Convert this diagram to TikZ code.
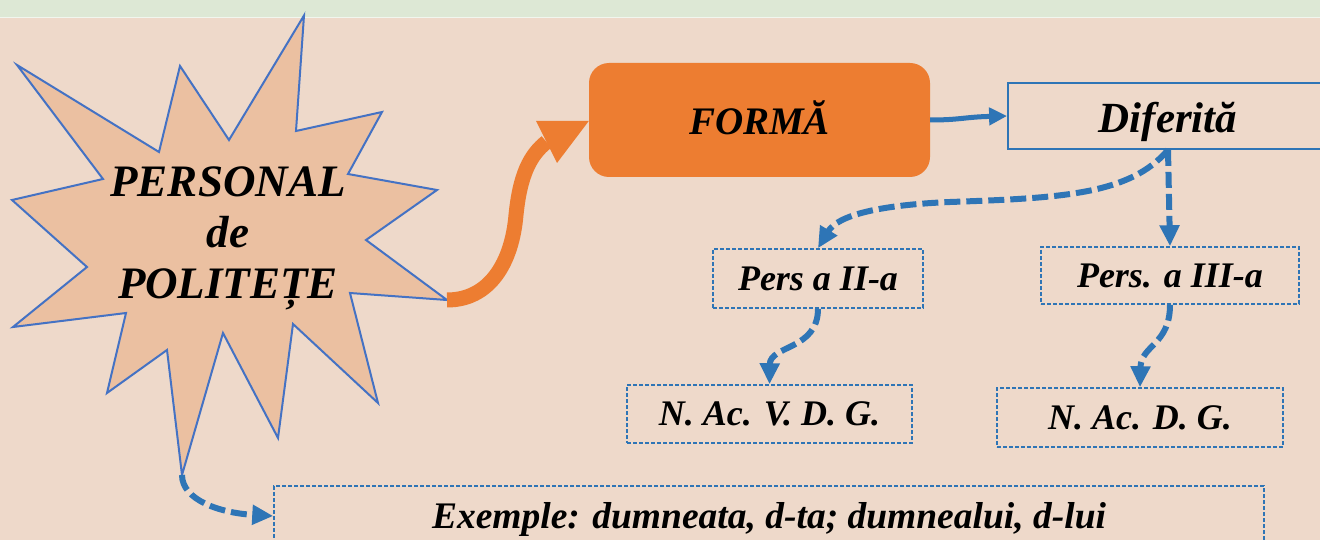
\documentclass[tikz,border=0pt]{standalone}
\usepackage{fontspec}
\setmainfont{Liberation Serif}
\usetikzlibrary{arrows.meta}
\definecolor{bgpeach}{HTML}{EED9CA}
\definecolor{topgreen}{HTML}{DDE8D5}
\definecolor{starfill}{HTML}{EBC0A1}
\definecolor{starline}{HTML}{4472C4}
\definecolor{orangeA}{HTML}{ED7D31}
\definecolor{blueA}{HTML}{2E75B6}
\tikzset{
  txt/.style 2 args={font=\fontsize{#1}{#1}\selectfont\bfseries\itshape, text height=#2, text depth=0pt, inner sep=0pt},
  dashbox/.style={draw=blueA, line width=1.5pt, dash pattern=on 4pt off 2pt},
  dasharrow/.style={draw=blueA, line width=6pt, dash pattern=on 16pt off 6pt, -{Triangle[length=21pt,width=19pt]}},
  solidarrow/.style={draw=blueA, line width=5pt, -{Triangle[length=18pt,width=17pt]}},
}
\begin{document}
\begin{tikzpicture}[x=1pt,y=-1pt]
\clip (0,0) rectangle (1320,540);
\fill[bgpeach] (0,0) rectangle (1320,540);
\fill[topgreen] (0,0) rectangle (1320,17);
\draw[white!60!topgreen, line width=1pt] (0,17.5) -- (1320,17.5);

% star
\draw[starline, fill=starfill, line width=2pt]
  (304,15.5) -- (296,131) -- (382,112) -- (348,174) -- (437,190) -- (366,240)
  -- (447,300) -- (350,293) -- (378,403) -- (293,324) -- (278,438) -- (223,333)
  -- (182,475) -- (167,350) -- (107,393) -- (126,313) -- (13,327) -- (87,267)
  -- (12,200) -- (103,179) -- (17,65) -- (159,152) -- (180,66) -- (229,140) -- cycle;
\coordinate (sr) at (447,300);
\coordinate (sb) at (182,475);
\node[font=\fontsize{45}{51}\selectfont\bfseries\itshape, align=center, inner sep=0pt] (star) at (228,238.5) {PERSONAL\\de\\POLITEȚE};

% boxes
\node[txt={39}{25.7pt}, fill=orangeA, rounded corners=20pt, minimum width=341pt, minimum height=114pt] (forma) at (759.5,120) {\raisebox{-1.5pt}{FORMĂ}};
\node[txt={43}{28.4pt}, draw=blueA, line width=1.8pt, minimum width=320pt, minimum height=66pt] (dif) at (1168,116) {\raisebox{-2pt}{Diferită}};
\node[txt={36}{23.8pt}, dashbox, minimum width=210pt, minimum height=59pt] (p2) at (818,278.5) {Pers a II-a};
\node[txt={36}{23.8pt}, dashbox, minimum width=258pt, minimum height=57pt] (p3) at (1170,275.5) {Pers. a III-a};
\node[txt={36}{23.8pt}, dashbox, minimum width=285pt, minimum height=58pt] (nav) at (769.5,414) {N. Ac. V. D. G.};
\node[txt={36}{23.8pt}, dashbox, minimum width=286pt, minimum height=59pt] (nad) at (1140,417.5) {N. Ac. D. G.};
\node[txt={37.5}{24.8pt}, dashbox, minimum width=990pt, minimum height=60pt] (ex) at (769,516) {Exemple: dumneata, d-ta; dumnealui, d-lui};

% orange curved arrow
\coordinate (oa) at (546.5,142);
\draw[orangeA, line width=15pt] (sr) .. controls (490,300) and (512,262) .. (516,215)
  .. controls (520,175) and (530,155) .. (oa);
\fill[orangeA] (536,121) -- (forma.west |- 0,121) -- (557,163) -- cycle;

% blue arrows
\draw[solidarrow] (forma.east) .. controls (960,120) and (965,117) .. (dif.west);
\draw[dasharrow] (dif.south) .. controls (1130,195) and (1060,198) .. (950,202)
  .. controls (880,205) and (838,215) .. (p2.north);
\draw[dasharrow] (dif.south) -- (p3.north);
\draw[dasharrow] (p2.south) .. controls (818,350) and (770,345) .. (nav.north);
\draw[dasharrow] (p3.south) .. controls (1170,345) and (1141,345) .. (nad.north);
\draw[dasharrow] (sb) .. controls (182,500) and (220,513) .. (ex.west);
\end{tikzpicture}
\end{document}
